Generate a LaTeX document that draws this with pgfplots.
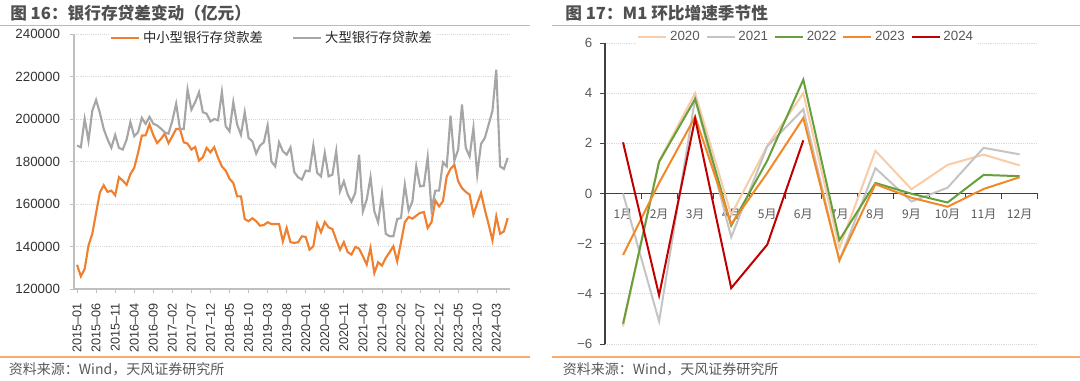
\documentclass[border=0pt]{standalone}
\usepackage{fontspec}
\setmainfont{Liberation Sans}
\newfontfamily\cjk{Noto Sans CJK SC}
\usepackage{pgfplots}
\pgfplotsset{compat=1.18}
\usepackage{pgfplotstable}

\definecolor{cOrange}{RGB}{240,128,48}
\definecolor{cGray}{RGB}{166,166,166}
\definecolor{c2020}{RGB}{249,203,166}
\definecolor{c2021}{RGB}{196,196,196}
\definecolor{c2022}{RGB}{102,160,60}
\definecolor{c2023}{RGB}{242,137,40}
\definecolor{c2024}{RGB}{192,0,0}
\definecolor{rulec}{RGB}{245,170,110}
\definecolor{titlec}{RGB}{80,80,80}
\definecolor{srcc}{RGB}{89,89,89}
\definecolor{axisgray}{RGB}{191,191,191}
\definecolor{darkaxis}{RGB}{64,64,64}
\definecolor{gridgray}{RGB}{217,217,217}

\pgfplotstableread{
m s l
0 131400 187500
1 126000 186700
2 129400 200000
3 140400 189800
4 146000 203900
5 155800 209000
6 165500 202800
7 168800 195300
8 165700 190400
9 166300 186500
10 164100 192500
11 172600 186400
12 171000 185600
13 169000 190300
14 174100 198500
15 177000 191900
16 184000 193700
17 192200 200500
18 192300 197700
19 197500 201000
20 192500 197800
21 188700 197000
22 190600 195500
23 193100 193700
24 188600 193100
25 191900 199200
26 195300 207200
27 195300 195300
28 189000 195300
29 188400 213800
30 185600 204400
31 186800 207900
32 180400 212600
33 182000 203200
34 186400 202500
35 184300 198800
36 186700 200000
37 181700 199400
38 177700 212700
39 175700 196600
40 171900 194200
41 169900 207900
42 163600 197400
43 163600 192600
44 152900 203200
45 151900 191100
46 153300 189500
47 151900 183700
48 149800 187500
49 150100 189000
50 151400 197000
51 150600 180000
52 150600 177700
53 150600 189000
54 142400 184800
55 148700 183200
56 142000 186600
57 141700 175000
58 142000 172600
59 144800 171500
60 144500 175700
61 138500 175400
62 140100 187500
63 150800 174700
64 146700 173000
65 151500 184100
66 149000 173000
67 148200 173800
68 143200 184900
69 138500 166000
70 142100 170700
71 137400 164600
72 136200 161000
73 139800 165200
74 139000 183200
75 135400 156600
76 131500 162000
77 139300 172600
78 127500 156600
79 132600 151400
80 131000 164700
81 134600 146000
82 137300 144800
83 140100 144800
84 133000 152900
85 142000 153400
86 151400 169100
87 153900 156900
88 153100 161300
89 154500 177700
90 155800 168300
91 156200 168600
92 148700 182000
93 151400 157300
94 161700 166300
95 158900 166300
96 161300 179600
97 173000 177700
98 176500 201600
99 178500 180400
100 170700 185600
101 167500 206800
102 165700 186400
103 164400 182400
104 155000 195800
105 160200 173800
106 165200 188300
107 157300 191100
108 150300 197400
109 142900 203900
110 154200 223200
111 146000 177700
112 147100 176500
113 153400 181700
}\lefttable

\begin{document}
\begin{tikzpicture}
\path[use as bounding box] (0pt,0pt) rectangle (810pt,285.75pt);
% rules
\draw[rulec, line width=0.9pt] (0pt,266.5pt) -- (397.5pt,266.5pt);
\draw[rulec, line width=0.9pt] (414pt,266.5pt) -- (810pt,266.5pt);
\draw[rulec, line width=0.9pt] (0pt,18pt) -- (397.5pt,18pt);
\draw[rulec, line width=0.9pt] (414pt,18pt) -- (810pt,18pt);
% titles
\node[anchor=west, inner sep=0pt, text=titlec, font=\cjk\bfseries\fontsize{12.5}{12.5}\selectfont] at (7.5pt,276pt) {图 16：银行存贷差变动（亿元）};
\node[anchor=west, inner sep=0pt, text=titlec, font=\cjk\bfseries\fontsize{12.5}{12.5}\selectfont] at (423.75pt,276pt) {图 17：M1 环比增速季节性};
% sources
\node[anchor=west, inner sep=0pt, text=srcc, font=\cjk\fontsize{10.5}{10.5}\selectfont] at (6.5pt,9pt) {资料来源：Wind，天风证券研究所};
\node[anchor=west, inner sep=0pt, text=srcc, font=\cjk\fontsize{10.5}{10.5}\selectfont] at (422pt,9pt) {资料来源：Wind，天风证券研究所};

% ---------- left chart ----------
\begin{axis}[
  at={(55.5pt,69pt)}, anchor=south west, scale only axis,
  width=327pt, height=191.25pt,
  xmin=-0.8, xmax=113.6, ymin=120000, ymax=240000,
  axis x line*=bottom, axis y line*=left,
  axis line style={draw=axisgray, line width=0.8pt},
  scaled y ticks=false,
  xtick={0,5,...,110},
  xticklabels={2015–01,2015–06,2015–11,2016–04,2016–09,2017–02,2017–07,2017–12,2018–05,2018–10,2019–03,2019–08,2020–01,2020–06,2020–11,2021–04,2021–09,2022–02,2022–07,2022–12,2023–05,2023–10,2024–03},
  ytick={120000,140000,160000,180000,200000,220000,240000},
  yticklabels={120000,140000,160000,180000,200000,220000,240000},
  tick align=outside, major tick length=3pt,
  tick style={draw=axisgray, line width=0.6pt},
  ymajorgrids, grid style={draw=gridgray, densely dotted, line width=0.5pt},
  xticklabel style={font=\fontsize{9.5}{9.5}\selectfont, text=black!80, yshift=-4pt, rotate=90, anchor=east},
  yticklabel style={font=\fontsize{10}{10}\selectfont, text=black!80, xshift=-4pt},
  legend style={at={(0.455,0.985)}, anchor=center, draw=none, fill=white,
    font=\cjk\fontsize{10}{10}\selectfont, text=black!85, inner sep=1pt,
    /tikz/every even column/.append style={column sep=20pt}},
  legend columns=2,
  legend image code/.code={\draw[#1, line width=1.6pt] (0pt,0pt) -- (21pt,0pt);},
]
\addplot[cOrange, line width=1.6pt] table[x=m, y=s]{\lefttable};
\addlegendentry{中小型银行存贷款差}
\addplot[cGray, line width=1.6pt] table[x=m, y=l]{\lefttable};
\addlegendentry{大型银行存贷款差}
\end{axis}

% ---------- right chart ----------
\begin{axis}[
  at={(453.75pt,27.75pt)}, anchor=south west, scale only axis,
  width=324.5pt, height=225.75pt,
  xmin=0.5, xmax=12.5, ymin=-6, ymax=6,
  axis x line*=middle, axis y line*=left,
  hide obscured x ticks=false,
  axis line style={draw=darkaxis, line width=0.8pt},
  xtick={0.5,1.5,...,12.5},
  x tick label as interval,
  xticklabels={1月,2月,3月,4月,5月,6月,7月,8月,9月,10月,11月,12月},
  ytick={-6,-4,-2,0,2,4,6},
  yticklabels={−6,−4,−2,0,2,4,6},
  tick align=outside, major tick length=4pt,
  tick style={draw=darkaxis, line width=0.6pt},
  ymajorgrids, grid style={draw=gridgray, densely dotted, line width=0.5pt},
  xticklabel style={font=\cjk\fontsize{9}{9}\selectfont, text=srcc, yshift=-4pt},
  yticklabel style={font=\fontsize{10}{10}\selectfont, text=srcc, xshift=-2pt},
  legend style={at={(0.466,1.02)}, anchor=center, draw=none, fill=white,
    font=\fontsize{10}{10}\selectfont, text=srcc, inner sep=1pt,
    /tikz/every even column/.append style={column sep=2.5pt}},
  legend columns=-1,
  legend image code/.code={\draw[#1, line width=1.5pt] (0pt,0pt) -- (21pt,0pt);},
]
\addplot[c2020, line width=1.5pt] coordinates {(1,-5.3) (2,1.3) (3,4.0) (4,-0.85) (5,1.9) (6,4.0) (7,-2.17) (8,1.7) (9,0.17) (10,1.14) (11,1.55) (12,1.12)};
\addlegendentry{2020}
\addplot[c2021, line width=1.5pt] coordinates {(1,0.0) (2,-5.1) (3,3.8) (4,-1.74) (5,1.88) (6,3.36) (7,-2.68) (8,1.01) (9,-0.32) (10,0.23) (11,1.82) (12,1.56)};
\addlegendentry{2021}
\addplot[c2022, line width=1.5pt] coordinates {(1,-5.19) (2,1.26) (3,3.77) (4,-1.28) (5,1.31) (6,4.54) (7,-1.86) (8,0.42) (9,-0.01) (10,-0.36) (11,0.74) (12,0.69)};
\addlegendentry{2022}
\addplot[c2023, line width=1.5pt] coordinates {(1,-2.45) (2,0.42) (3,3.06) (4,-1.22) (5,0.82) (6,3.01) (7,-2.66) (8,0.37) (9,-0.17) (10,-0.53) (11,0.18) (12,0.65)};
\addlegendentry{2023}
\addplot[c2024, line width=1.5pt] coordinates {(1,2.04) (2,-4.06) (3,2.99) (4,-3.77) (5,-2.04) (6,2.12)};
\addlegendentry{2024}
\end{axis}
\end{tikzpicture}
\end{document}
